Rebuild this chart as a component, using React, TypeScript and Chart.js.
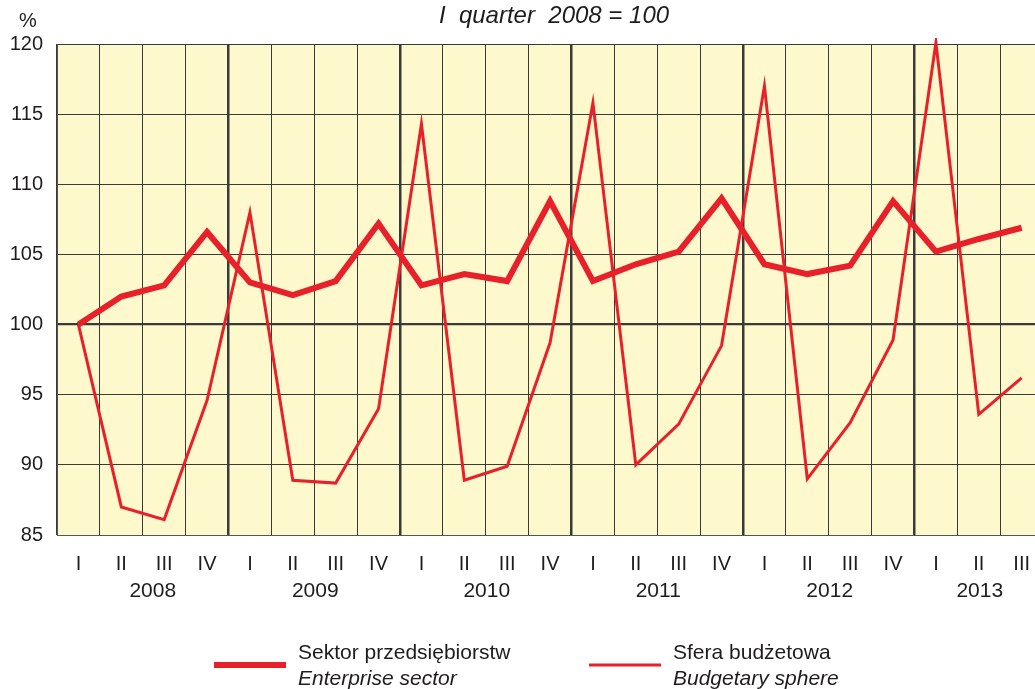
import React, { useEffect, useRef } from "react";
import { Chart, registerables } from "chart.js";

Chart.register(...registerables);

const quarterLabels = [
  "I", "II", "III", "IV",
  "I", "II", "III", "IV",
  "I", "II", "III", "IV",
  "I", "II", "III", "IV",
  "I", "II", "III", "IV",
  "I", "II", "III",
];
const years = ["2008", "2009", "2010", "2011", "2012", "2013"];
const quartersPerYear = [4, 4, 4, 4, 4, 3];

const enterpriseSector = [
  100, 102.0, 102.8, 106.6,
  103.0, 102.1, 103.1, 107.2,
  102.8, 103.6, 103.1, 108.8,
  103.1, 104.3, 105.2, 109.0,
  104.3, 103.6, 104.2, 108.8,
  105.2, 106.1, 106.9,
];
const budgetarySphere = [
  100, 87.0, 86.1, 94.6,
  108.0, 88.9, 88.7, 94.0,
  114.3, 88.9, 89.9, 98.7,
  115.8, 90.0, 92.9, 98.5,
  117.0, 89.0, 93.0, 98.9,
  120.1, 93.6, 96.2,
];

const RED = "#e8202a";
const TEXT = "#1f1c1d";
const FONT = "'Liberation Sans', Arial, Helvetica, sans-serif";
const CANVAS_W = 1047;

const decorPlugin = {
  id: "decor",
  beforeDraw(chart: any) {
    const { ctx, chartArea } = chart;
    ctx.save();
    ctx.fillStyle = "#fef9cd";
    ctx.fillRect(chartArea.left, chartArea.top, chartArea.right - chartArea.left, chartArea.bottom - chartArea.top);
    ctx.restore();
  },
  afterDraw(chart: any) {
    const { ctx } = chart;
    const xs = chart.scales.x;
    ctx.save();
    ctx.fillStyle = TEXT;
    // title
    ctx.font = `italic 24px ${FONT}`;
    ctx.textAlign = "center";
    ctx.textBaseline = "middle";
    ctx.fillText("I  quarter  2008 = 100", 554, 16);
    // percent
    ctx.font = `20px ${FONT}`;
    ctx.fillText("%", 28, 21);
    // years
    ctx.font = `21px ${FONT}`;
    let start = 0;
    years.forEach((y, i) => {
      const n = quartersPerYear[i];
      const center = start + (n - 1) / 2;
      ctx.fillText(y, xs.getPixelForValue(center) + (i === 0 ? 10 : 1), 591);
      start += n;
    });
    // legend
    ctx.strokeStyle = RED;
    ctx.lineCap = "butt";
    ctx.lineWidth = 6;
    ctx.beginPath();
    ctx.moveTo(214, 665);
    ctx.lineTo(286, 665);
    ctx.stroke();
    ctx.lineWidth = 3;
    ctx.beginPath();
    ctx.moveTo(589, 665);
    ctx.lineTo(661, 665);
    ctx.stroke();
    ctx.textAlign = "left";
    ctx.font = `21px ${FONT}`;
    ctx.fillText("Sektor przedsiębiorstw", 298, 653);
    ctx.fillText("Sfera budżetowa", 673, 653);
    ctx.font = `italic 21px ${FONT}`;
    ctx.fillText("Enterprise sector", 298, 679);
    ctx.fillText("Budgetary sphere", 673, 679);
    ctx.restore();
  },
};

export default function App() {
  const canvasRef = useRef<HTMLCanvasElement | null>(null);

  useEffect(() => {
    const canvas = canvasRef.current;
    if (!canvas) return;
    const chart = new Chart(canvas, {
      type: "line",
      data: {
        labels: quarterLabels,
        datasets: [
          {
            label: "Sektor przedsiębiorstw",
            data: enterpriseSector,
            borderColor: RED,
            borderWidth: 6,
            pointRadius: 0,
            tension: 0,
            fill: false,
            borderJoinStyle: "miter",
          },
          {
            label: "Sfera budżetowa",
            data: budgetarySphere,
            borderColor: RED,
            borderWidth: 3,
            pointRadius: 0,
            tension: 0,
            fill: false,
            clip: 6,
            borderJoinStyle: "miter",
          },
        ],
      },
      options: {
        responsive: false,
        animation: false,
        layout: { autoPadding: false, padding: { top: 44, left: 0, right: 0, bottom: 0 } },
        plugins: {
          legend: { display: false },
          title: { display: false },
          tooltip: { enabled: false },
        },
        scales: {
          x: {
            type: "category",
            offset: true,
            grid: {
              offset: true,
              drawTicks: false,
              color: "#3a3a3a",
              lineWidth: (c: any) => (c.index > 0 && c.index % 4 === 0 ? 2.5 : 1),
            },
            border: { display: true, color: "#555", width: 1 },
            ticks: {
              color: TEXT,
              font: { family: FONT, size: 20 },
              padding: 17,
              maxRotation: 0,
              autoSkip: false,
            },
            afterFit: (s: any) => {
              s.height = 154;
            },
          },
          y: {
            min: 85,
            max: 120,
            ticks: {
              stepSize: 5,
              color: TEXT,
              font: { family: FONT, size: 20 },
              padding: 14,
            },
            grid: {
              drawTicks: false,
              color: "#3a3a3a",
              lineWidth: (c: any) => (c.tick && c.tick.value === 100 ? 2.2 : 1),
            },
            border: { display: true, color: "#555", width: 1 },
            afterFit: (s: any) => {
              s.width = 57;
            },
          },
        },
      },
      plugins: [decorPlugin],
    } as any);
    return () => chart.destroy();
  }, []);

  return (
    <div style={{ position: "absolute", left: 0, top: 0, width: 1035, height: 689, overflow: "hidden", background: "#fff" }}>
      <canvas ref={canvasRef} width={CANVAS_W} height={689} style={{ width: CANVAS_W, height: 689, display: "block" }} />
    </div>
  );
}
